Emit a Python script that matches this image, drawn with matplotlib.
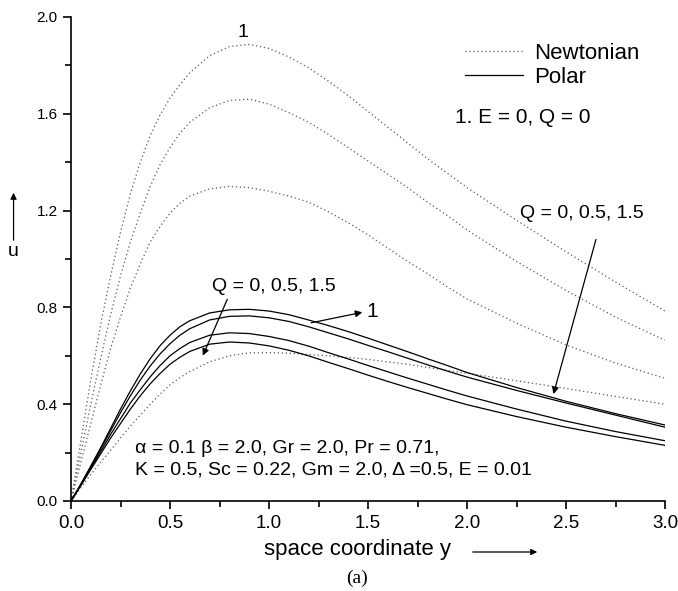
import numpy as np
import matplotlib
matplotlib.use("Agg")
import matplotlib.pyplot as plt

plt.rcParams['font.family'] = ['Liberation Sans', 'DejaVu Sans']

# space coordinate y
y = [0, 0.05, 0.1, 0.15, 0.2, 0.25, 0.3, 0.35, 0.4, 0.45, 0.5, 0.55, 0.6, 0.7, 0.8, 0.9, 1.0,
     1.1, 1.2, 1.3, 1.4, 1.5, 1.6, 1.7, 1.8, 1.9, 2.0, 2.25, 2.5, 2.75, 3.0]

# Newtonian velocity profiles (dotted), curve 1 = E = 0, Q = 0
newt_1 = [0, 0.25, 0.50, 0.73, 0.93, 1.11, 1.27, 1.40, 1.51, 1.595, 1.665, 1.72, 1.77, 1.84, 1.878, 1.887, 1.87,
          1.835, 1.79, 1.735, 1.675, 1.61, 1.545, 1.48, 1.415, 1.355, 1.295, 1.16, 1.03, 0.905, 0.785]
newt_2 = [0, 0.20, 0.40, 0.59, 0.77, 0.93, 1.07, 1.19, 1.30, 1.39, 1.46, 1.52, 1.565, 1.625, 1.655, 1.66, 1.64,
          1.605, 1.565, 1.515, 1.46, 1.405, 1.35, 1.295, 1.235, 1.18, 1.12, 0.99, 0.87, 0.76, 0.664]
newt_3 = [0, 0.16, 0.32, 0.48, 0.63, 0.76, 0.88, 0.98, 1.07, 1.135, 1.19, 1.23, 1.26, 1.29, 1.30, 1.295, 1.28,
          1.26, 1.235, 1.195, 1.15, 1.10, 1.045, 0.99, 0.94, 0.885, 0.835, 0.735, 0.645, 0.57, 0.507]
newt_4 = [0, 0.055, 0.11, 0.16, 0.21, 0.26, 0.31, 0.355, 0.40, 0.442, 0.48, 0.51, 0.535, 0.575, 0.60, 0.612, 0.613,
          0.611, 0.605, 0.60, 0.593, 0.585, 0.575, 0.565, 0.552, 0.54, 0.528, 0.497, 0.465, 0.432, 0.40]

# Polar fluid velocity profiles (solid)
polar_1 = [0, 0.07, 0.145, 0.22, 0.30, 0.38, 0.455, 0.525, 0.588, 0.642, 0.685, 0.72, 0.745, 0.777, 0.790, 0.792,
           0.785, 0.77, 0.748, 0.725, 0.70, 0.673, 0.645, 0.617, 0.588, 0.56, 0.531, 0.469, 0.412, 0.361, 0.314]
polar_2 = [0, 0.07, 0.14, 0.215, 0.29, 0.365, 0.435, 0.50, 0.558, 0.608, 0.65, 0.685, 0.712, 0.748, 0.763, 0.765,
           0.757, 0.742, 0.72, 0.695, 0.67, 0.643, 0.617, 0.59, 0.563, 0.537, 0.512, 0.457, 0.405, 0.355, 0.305]
polar_3 = [0, 0.065, 0.135, 0.205, 0.275, 0.34, 0.405, 0.46, 0.513, 0.56, 0.60, 0.63, 0.655, 0.685, 0.695, 0.692,
           0.68, 0.663, 0.64, 0.613, 0.587, 0.56, 0.534, 0.508, 0.483, 0.458, 0.434, 0.38, 0.33, 0.287, 0.249]
polar_4 = [0, 0.065, 0.13, 0.195, 0.26, 0.32, 0.38, 0.435, 0.484, 0.527, 0.565, 0.594, 0.618, 0.648, 0.657, 0.653,
           0.641, 0.623, 0.60, 0.573, 0.547, 0.52, 0.494, 0.469, 0.445, 0.421, 0.398, 0.349, 0.305, 0.266, 0.230]

fig = plt.figure(figsize=(6.78, 5.91), dpi=100)
ax = fig.add_axes([71/678, 1-501/591, 594/678, 484/591])

dot = (0, (1, 2.2))
n_lines = []
for v in [newt_1, newt_2, newt_3, newt_4]:
    ln, = ax.plot(y, v, color='0.35', lw=0.9, linestyle=dot)
    n_lines.append(ln)
p_lines = []
for v in [polar_1, polar_2, polar_3, polar_4]:
    ln, = ax.plot(y, v, color='black', lw=0.9)
    p_lines.append(ln)

ax.set_xlim(0, 3.0)
ax.set_ylim(0, 2.0)
ax.spines['top'].set_visible(False)
ax.spines['right'].set_visible(False)
ax.set_xticks(np.arange(0, 3.01, 0.5))
ax.set_xticks(np.arange(0.25, 3.0, 0.5), minor=True)
ax.set_yticks(np.arange(0, 2.01, 0.4))
ax.set_yticks(np.arange(0.2, 2.0, 0.4), minor=True)
ax.tick_params(which='major', direction='out', length=6, width=1.2)
ax.tick_params(which='minor', direction='out', length=4, width=1.2)
ax.tick_params(axis='x', pad=4)
ax.set_xticklabels(['%.1f' % t for t in np.arange(0, 3.01, 0.5)], fontsize=13.5)
ax.set_yticklabels(['%.1f' % t for t in np.arange(0, 2.01, 0.4)], fontsize=11)
for s in ['left', 'bottom']:
    ax.spines[s].set_linewidth(1.2)

ax.legend([n_lines[0], p_lines[0]], ['Newtonian', 'Polar'], frameon=False,
          loc='upper left', bbox_to_anchor=(0.645, 0.97), fontsize=16,
          handlelength=2.6, handletextpad=0.5, labelspacing=0.15, borderpad=0)

ax.text(1.94, 1.583, '1. E = 0, Q = 0', fontsize=15, va='center')
ax.text(0.869, 1.90, '1', fontsize=14, ha='center', va='bottom')

arw = dict(arrowstyle='-|>', color='black', lw=0.9, mutation_scale=10)
ax.text(2.268, 1.19, 'Q = 0, 0.5, 1.5', fontsize=14, va='center')
ax.annotate('', xy=(2.433, 0.431), xytext=(2.655, 1.092), arrowprops=arw)
ax.text(0.711, 0.886, 'Q = 0, 0.5, 1.5', fontsize=14, va='center')
ax.annotate('', xy=(0.66, 0.59), xytext=(0.795, 0.844), arrowprops=arw)
ax.text(1.49, 0.782, '1', fontsize=15, va='center', ha='left')
ax.annotate('', xy=(1.485, 0.782), xytext=(1.199, 0.734), arrowprops=arw)

ax.text(0.323, 0.219, 'α = 0.1 β = 2.0, Gr = 2.0, Pr = 0.71,', fontsize=14, va='center')
ax.text(0.323, 0.128, 'K = 0.5, Sc = 0.22, Gm = 2.0, Δ =0.5, E = 0.01', fontsize=14,
        va='center')

# axis labels with arrows
fig.text(0.020, 1-252/591, 'u', fontsize=14, ha='center', va='center')
fig.add_artist(matplotlib.patches.FancyArrowPatch(
    (0.020, 1-243/591), (0.020, 1-190/591), transform=fig.transFigure,
    arrowstyle='-|>', mutation_scale=9, color='black', lw=0.9))
fig.text(358/678, 1-549/591, 'space coordinate y', fontsize=16, ha='center', va='center')
fig.add_artist(matplotlib.patches.FancyArrowPatch(
    (470/678, 1-552/591), (540/678, 1-552/591), transform=fig.transFigure,
    arrowstyle='-|>', mutation_scale=9, color='black', lw=0.9))
fig.text(357/678, 1-578/591, '(a)', fontsize=14, ha='center', va='center',
         family=['Liberation Serif', 'DejaVu Serif'])

fig.savefig('out.png', dpi=100)
